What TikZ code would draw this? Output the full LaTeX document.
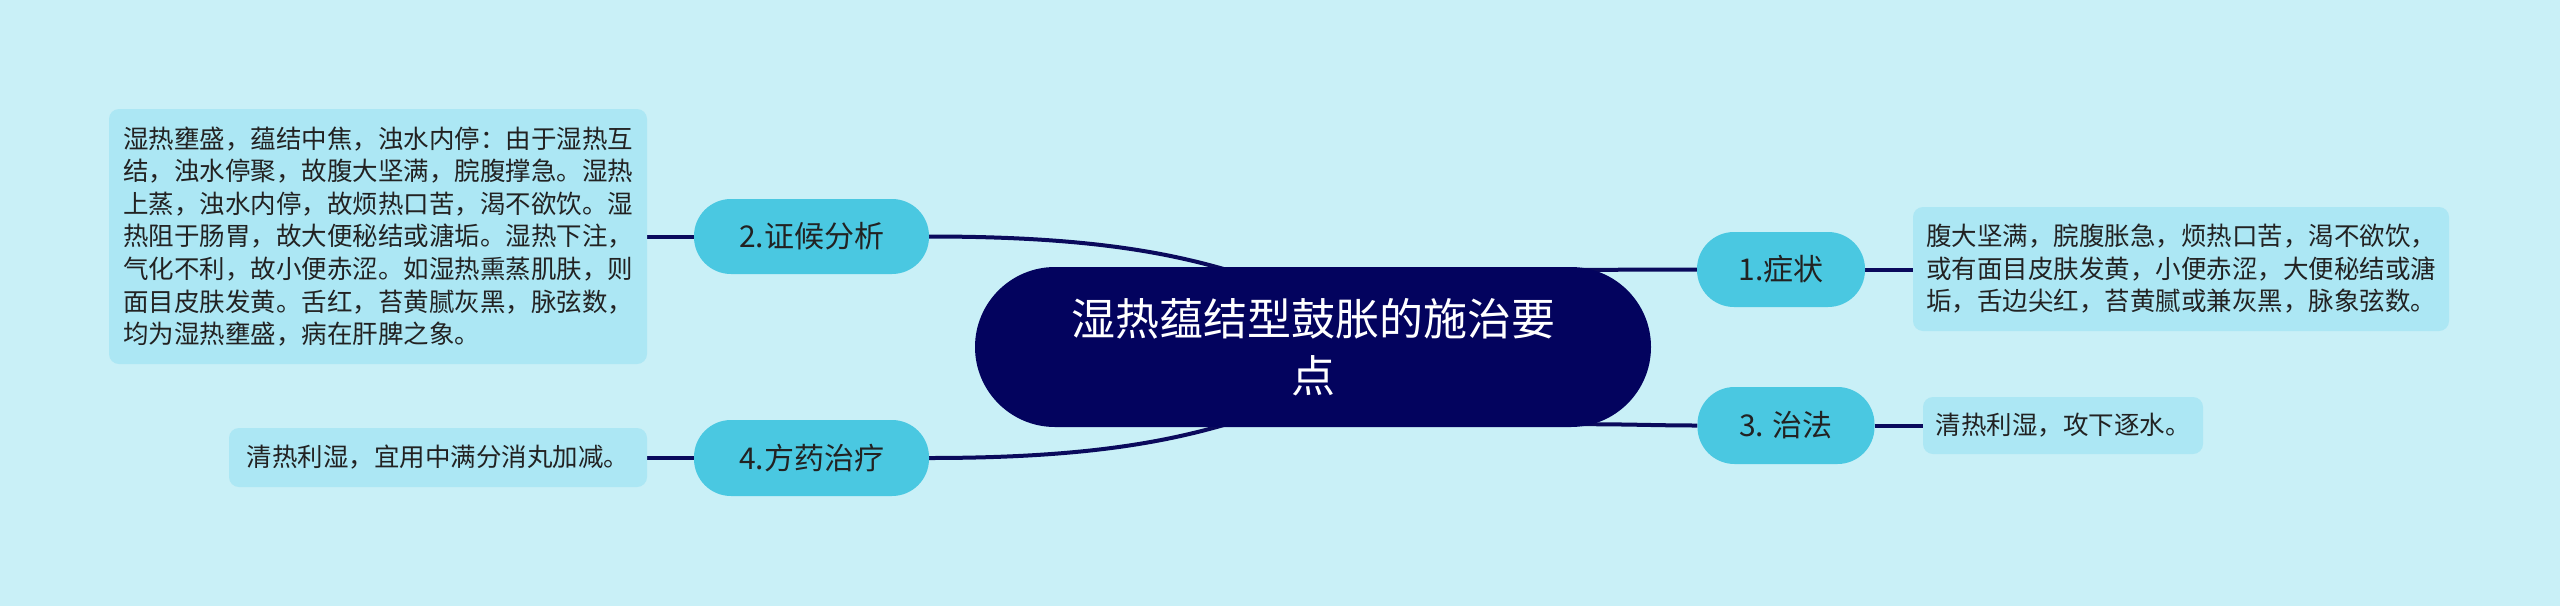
\documentclass[tikz,border=0pt]{standalone}
\usepackage{fontspec}
\setmainfont{Noto Sans CJK SC}
\usetikzlibrary{calc}
\definecolor{bgc}{HTML}{C9F0F7}
\definecolor{nodec}{HTML}{4AC8E1}
\definecolor{boxc}{HTML}{ACE7F4}
\definecolor{rootc}{HTML}{03035E}
\definecolor{linec}{HTML}{0A0A5C}
\definecolor{txtc}{HTML}{222222}
\pgfdeclarelayer{bglayer}
\pgfdeclarelayer{linelayer}
\pgfsetlayers{bglayer,linelayer,main}
\tikzset{
  rootnode/.style={fill=rootc, text=white, rounded corners=80pt, minimum width=676pt, minimum height=160pt, inner sep=0pt, align=center, font=\fontsize{44}{57}\selectfont},
  branchnode/.style={fill=nodec, text=txtc, rounded corners=37pt, minimum height=75pt, inner sep=0pt, font=\fontsize{30}{36}\selectfont},
  leafbox/.style={fill=boxc, text=txtc, rounded corners=10pt, inner sep=0pt, align=left, font=\fontsize{25.5}{32.6}\selectfont},
  conn/.style={draw=linec, line width=4pt}
}
\begin{document}
\begin{tikzpicture}[x=1pt, y=-1pt]
\begin{pgfonlayer}{bglayer}
\fill[bgc] (0,0) rectangle (2560,606);
\end{pgfonlayer}
\useasboundingbox (0,0) rectangle (2560,606);

\node[rootnode] (root) at (1313,347) {湿热蕴结型鼓胀的施治要\\点};

\node[branchnode, minimum width=168pt] (n1) at (1781,269.5) {1.症状};
\node[branchnode, minimum width=235pt] (n2) at (811.5,236.5) {2.证候分析};
\node[branchnode, minimum width=177pt, minimum height=77pt] (n3) at (1786,425.5) {3. 治法};
\node[branchnode, minimum width=235pt, minimum height=76pt] (n4) at (811.5,458) {4.方药治疗};

\node[leafbox, minimum width=538pt, minimum height=255pt] (b2) at (378,236.5) {湿热壅盛，蕴结中焦，浊水内停：由于湿热互\\结，浊水停聚，故腹大坚满，脘腹撑急。湿热\\上蒸，浊水内停，故烦热口苦，渴不欲饮。湿\\热阻于肠胃，故大便秘结或溏垢。湿热下注，\\气化不利，故小便赤涩。如湿热熏蒸肌肤，则\\面目皮肤发黄。舌红，苔黄腻灰黑，脉弦数，\\均为湿热壅盛，病在肝脾之象。};
\node[leafbox, minimum width=536pt, minimum height=124pt] (b1) at (2181,269) {腹大坚满，脘腹胀急，烦热口苦，渴不欲饮，\\或有面目皮肤发黄，小便赤涩，大便秘结或溏\\垢，舌边尖红，苔黄腻或兼灰黑，脉象弦数。};
\node[leafbox, minimum width=280pt, minimum height=57pt] (b3) at (2063,425.5) {清热利湿，攻下逐水。};
\node[leafbox, minimum width=418pt, minimum height=59pt] (b4) at (438,457.5) {清热利湿，宜用中满分消丸加减。};

\coordinate (rtl) at ($(root.north)+(-70,8)$);
\coordinate (rbl) at ($(root.south)+(-70,-8)$);
\coordinate (rtr) at ($(root.north east)+(-70,3)$);
\coordinate (rbr) at ($(root.south east)+(-70,-3)$);

\begin{pgfonlayer}{linelayer}
\draw[conn] (n2.east) .. controls +(160,0) and +(-70,-22) .. (rtl);
\draw[conn] (n4.east) .. controls +(160,0) and +(-70,22) .. (rbl);
\draw[conn] (rtr) .. controls +(50,0) and +(-40,0) .. (n1.west);
\draw[conn] (rbr) .. controls +(50,0) and +(-40,0) .. (n3.west);
\draw[conn] (n1.east) -- (b1.west |- n1.east);
\draw[conn] (n3.east) -- (b3.west |- n3.east);
\draw[conn] (n2.west) -- (b2.east |- n2.west);
\draw[conn] (n4.west) -- (b4.east |- n4.west);
\end{pgfonlayer}
\end{tikzpicture}
\end{document}
